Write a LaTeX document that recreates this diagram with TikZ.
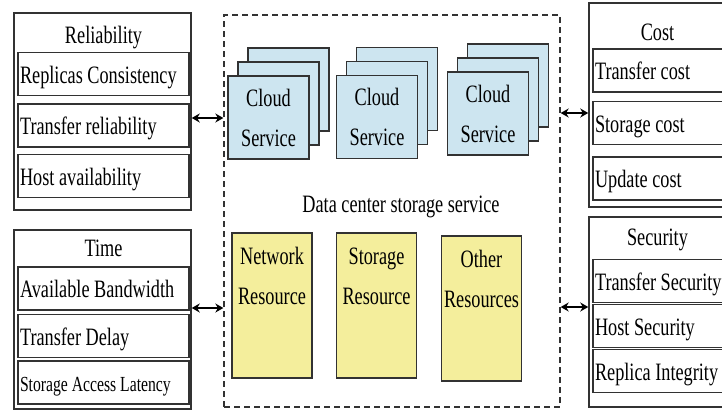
\documentclass[tikz,border=0pt]{standalone}
\usepackage{fontspec}
\setmainfont{Liberation Serif}[FakeStretch=0.73]
\usepackage{xcolor}
\usetikzlibrary{arrows.meta, positioning}
\definecolor{cloudblue}{RGB}{205,229,240}
\definecolor{resyellow}{RGB}{244,238,156}
\definecolor{boxline}{RGB}{50,50,50}
\newcommand{\boxfont}{\fontsize{25}{40}\selectfont}
\newcommand{\smallboxfont}{\fontsize{21.5}{26}\selectfont}

\begin{document}
\begin{tikzpicture}[x=1pt, y=-1pt, >={Stealth[length=8pt, width=9pt]}]
% We define the styles for the boxes and the arrows
 \tikzset{
outerbox/.style = {draw=boxline, rectangle, line width=1.5pt},
item/.style = {draw=boxline, rectangle, line width=1.5pt, inner sep=2pt, align=flush left, text height=18pt, text depth=0pt, minimum height=43pt, font=\boxfont},
litem/.style = {item, text width=167pt},
ritem/.style = {item, text width=135pt},
title/.style = {font=\boxfont, inner sep=2pt, text height=18pt, text depth=6pt},
dashbox/.style = {draw=boxline, line width=1.3pt, dash pattern=on 6pt off 4pt},
cloud/.style = {draw=boxline, fill=cloudblue, line width=1.5pt, minimum width=81pt, minimum height=83pt, align=center, font=\boxfont},
res/.style = {draw=boxline, fill=resyellow, line width=1.5pt, minimum width=80pt, minimum height=145pt},
restext/.style = {font=\boxfont, align=center, inner sep=0pt},
line/.style = {draw, <->, line width=1.8pt, black},
}

 \fill[white] (0,0) rectangle (722,410);
 \path[use as bounding box] (0,0) rectangle (722,410);
 \clip (0,0) rectangle (722,410);

 % Reliability block
 \node [outerbox, minimum width=177pt, minimum height=197pt] (rel) at (102.5,111.5) {};
 \node [litem] (ri1) at (103.5,74) {Replicas Consistency};
 \node [litem] (ri2) at (103.5,125.5) {Transfer reliability};
 \node [litem] (ri3) at (103.5,176) {Host availability};
 \node [title, above=0pt of ri1] (reltitle) {Reliability};

 % Time block
 \node [outerbox, minimum width=177pt, minimum height=179pt] (time) at (102.5,319.5) {};
 \node [litem] (ti1) at (103.5,288.5) {Available Bandwidth};
 \node [litem] (ti2) at (103.5,336) {Transfer Delay};
 \node [litem, font=\smallboxfont] (ti3) at (103.5,382.5) {Storage Access Latency};
 \node [title, above=2pt of ti1] (timetitle) {Time};

 % Cost block
 \node [outerbox, minimum width=137pt, minimum height=204pt] (cost) at (657.5,105) {};
 \node [ritem] (ci1) at (662.5,70.5) {Transfer cost};
 \node [ritem] (ci2) at (662.5,123) {Storage cost};
 \node [ritem] (ci3) at (662.5,178.5) {Update cost};
 \node [title, above=0pt of ci1, xshift=-5pt] (costtitle) {Cost};

 % Security block
 \node [outerbox, minimum width=137pt, minimum height=190pt] (sec) at (657.5,312) {};
 \node [ritem] (si1) at (662.5,281) {Transfer Security};
 \node [ritem] (si2) at (662.5,326) {Host Security};
 \node [ritem] (si3) at (662.5,371) {Replica Integrity};
 \node [title, above=5pt of si1, xshift=-5pt] (sectitle) {Security};

 % Data center storage service
 \node [dashbox, minimum width=336pt, minimum height=392pt] (dcs) at (392,211) {};
 \foreach \i/\x/\y in {1/268.5/117.5, 2/377/117, 3/488/113.5} {
  \node [cloud] (cs\i c) at (\x+20,\y-28) {};
  \node [cloud] (cs\i b) at (\x+10,\y-14) {};
  \node [cloud] (cs\i a) at (\x,\y) {Cloud\\Service};
 }
 \node [font=\boxfont] (dcslabel) at (401,207) {Data center storage service};

 \node [res] (net) at (272,305.5) {};
 \node [restext, below=15pt of net.north] (nettext) {Network\\Resource};
 \node [res] (sto) at (376.5,305.5) {};
 \node [restext, below=15pt of sto.north] (stotext) {Storage\\Resource};
 \node [res] (oth) at (481.5,308.5) {};
 \node [restext, below=15pt of oth.north] (othtext) {Other\\Resources};

 % Arrows between the blocks and the service
 \draw [line] ([yshift=-6.5pt]rel.east) -- ([yshift=-6.5pt]rel.east -| dcs.west);
 \draw [line] ([yshift=11.5pt]time.east) -- ([yshift=11.5pt]time.east -| dcs.west);
 \draw [line] ([yshift=-8pt]cost.west -| dcs.east) -- ([yshift=-8pt]cost.west);
 \draw [line] ([yshift=5pt]sec.west -| dcs.east) -- ([yshift=5pt]sec.west);

\end{tikzpicture}
\end{document}
